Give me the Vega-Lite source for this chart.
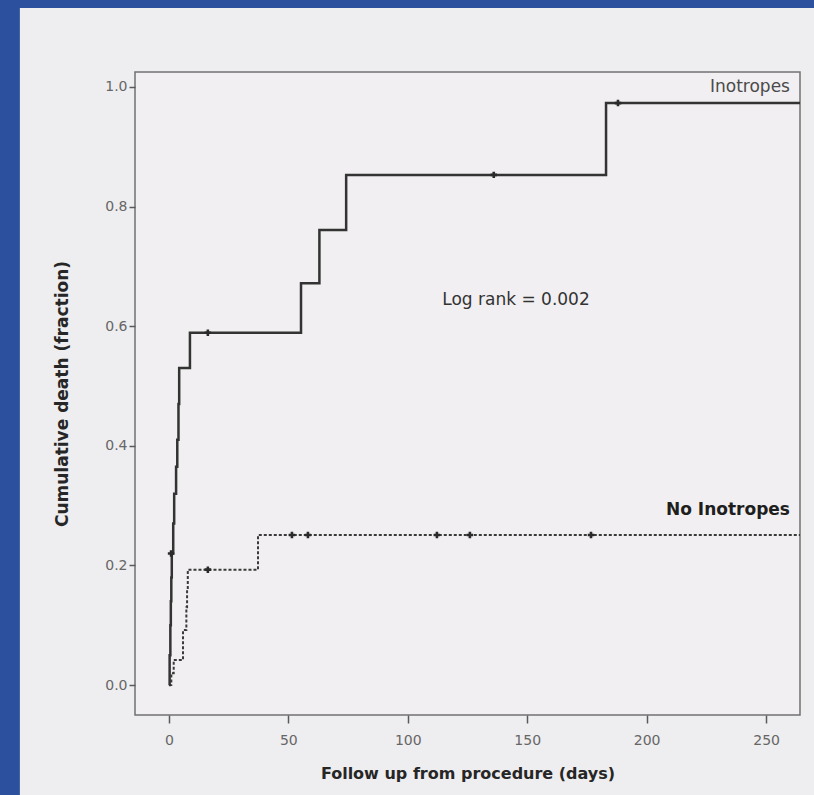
{
  "$schema": "https://vega.github.io/schema/vega-lite/v6.json",
  "width": 665,
  "height": 643,
  "autosize": {"type": "none"},
  "padding": {"left": 135, "top": 72, "right": 14, "bottom": 80},
  "background": "#2c4f9e",
  "config": {
    "view": {"stroke": null},
    "axis": {
      "domain": false,
      "grid": false,
      "ticks": true,
      "tickColor": "#5a5a5a",
      "tickWidth": 1.5,
      "labelColor": "#666666",
      "labelFont": "DejaVu Sans",
      "labelFontSize": 14,
      "titleFont": "DejaVu Sans",
      "titleFontSize": 16,
      "titleFontWeight": "bold",
      "titleColor": "#262626"
    }
  },
  "datasets": {
    "curves": [
      {"group": "Inotropes", "day": 0, "value": 0},
      {"group": "Inotropes", "day": 0.3, "value": 0.05},
      {"group": "Inotropes", "day": 0.6, "value": 0.1},
      {"group": "Inotropes", "day": 0.8, "value": 0.14},
      {"group": "Inotropes", "day": 1.0, "value": 0.18},
      {"group": "Inotropes", "day": 1.2, "value": 0.22},
      {"group": "Inotropes", "day": 1.8, "value": 0.27},
      {"group": "Inotropes", "day": 2.2, "value": 0.32},
      {"group": "Inotropes", "day": 3.0, "value": 0.365},
      {"group": "Inotropes", "day": 3.5, "value": 0.41},
      {"group": "Inotropes", "day": 4.0, "value": 0.47},
      {"group": "Inotropes", "day": 4.3, "value": 0.53},
      {"group": "Inotropes", "day": 8.8, "value": 0.589},
      {"group": "Inotropes", "day": 55.3, "value": 0.672},
      {"group": "Inotropes", "day": 63.0, "value": 0.761},
      {"group": "Inotropes", "day": 74.2, "value": 0.853},
      {"group": "Inotropes", "day": 183.0, "value": 0.973},
      {"group": "Inotropes", "day": 264.2, "value": 0.973},
      {"group": "No Inotropes", "day": 0, "value": 0},
      {"group": "No Inotropes", "day": 1.0, "value": 0.02},
      {"group": "No Inotropes", "day": 2.0, "value": 0.042},
      {"group": "No Inotropes", "day": 5.9, "value": 0.092},
      {"group": "No Inotropes", "day": 7.3, "value": 0.13},
      {"group": "No Inotropes", "day": 7.6, "value": 0.16},
      {"group": "No Inotropes", "day": 7.9, "value": 0.193},
      {"group": "No Inotropes", "day": 37.3, "value": 0.251},
      {"group": "No Inotropes", "day": 264.2, "value": 0.251}
    ],
    "censor": [
      {"group": "Inotropes", "day": 0.9, "value": 0.22},
      {"group": "Inotropes", "day": 16.3, "value": 0.589},
      {"group": "Inotropes", "day": 136.0, "value": 0.853},
      {"group": "Inotropes", "day": 188.0, "value": 0.973},
      {"group": "No Inotropes", "day": 16.3, "value": 0.193},
      {"group": "No Inotropes", "day": 51.5, "value": 0.251},
      {"group": "No Inotropes", "day": 58.2, "value": 0.251},
      {"group": "No Inotropes", "day": 112.2, "value": 0.251},
      {"group": "No Inotropes", "day": 126.0, "value": 0.251},
      {"group": "No Inotropes", "day": 176.7, "value": 0.251}
    ],
    "labels": [
      {"text": "Inotropes", "day": 260, "value": 1.0, "kind": "plain"},
      {"text": "No Inotropes", "day": 260, "value": 0.293, "kind": "bold"},
      {"text": "Log rank = 0.002", "day": 145.3, "value": 0.644, "kind": "mid"}
    ]
  },
  "layer": [
    {
      "data": {"values": [{"k": 1}]},
      "mark": {"type": "rect", "color": "#eeedef", "clip": false},
      "encoding": {
        "x": {"datum": -62.4, "type": "quantitative", "title": "Follow up from procedure (days)", "scale": {"domain": [-14.2, 264.2], "nice": false, "zero": false}, "axis": {"values": [0, 50, 100, 150, 200, 250], "tickSize": 8, "labelPadding": 10, "titlePadding": 18, "zindex": 3}},
        "x2": {"datum": 270.1},
        "y": {"datum": -0.184, "type": "quantitative", "title": "Cumulative death (fraction)", "scale": {"domain": [-0.05, 1.025], "nice": false, "zero": false}, "axis": {"values": [0, 0.2, 0.4, 0.6, 0.8, 1.0], "format": ".1f", "tickSize": 6, "labelPadding": 2, "titlePadding": 33, "titleFontSize": 17, "zindex": 3}},
        "y2": {"datum": 1.132}
      }
    },
    {
      "data": {"values": [{"k": 1}]},
      "mark": {"type": "rect", "color": "#f1eff1", "stroke": "#727272", "strokeWidth": 1.5, "clip": false},
      "encoding": {
        "x": {"datum": -14.2, "type": "quantitative", "title": "Follow up from procedure (days)"},
        "x2": {"datum": 264.2},
        "y": {"datum": -0.05, "type": "quantitative", "title": "Cumulative death (fraction)"},
        "y2": {"datum": 1.025}
      }
    },
    {
      "data": {"name": "curves"},
      "transform": [{"filter": "datum.group === 'No Inotropes'"}],
      "mark": {"type": "line", "interpolate": "step-after", "stroke": "#3a3a3a", "strokeWidth": 2, "strokeDash": [3, 2]},
      "encoding": {
        "x": {"field": "day", "type": "quantitative", "title": "Follow up from procedure (days)"},
        "y": {"field": "value", "type": "quantitative", "title": "Cumulative death (fraction)"}
      }
    },
    {
      "data": {"name": "curves"},
      "transform": [{"filter": "datum.group === 'Inotropes'"}],
      "mark": {"type": "line", "interpolate": "step-after", "stroke": "#333333", "strokeWidth": 2.5},
      "encoding": {
        "x": {"field": "day", "type": "quantitative", "title": "Follow up from procedure (days)"},
        "y": {"field": "value", "type": "quantitative", "title": "Cumulative death (fraction)"}
      }
    },
    {
      "data": {"name": "censor"},
      "mark": {"type": "point", "shape": "cross", "filled": true, "size": 42, "color": "#2a2a2a", "opacity": 1},
      "encoding": {
        "x": {"field": "day", "type": "quantitative", "title": "Follow up from procedure (days)"},
        "y": {"field": "value", "type": "quantitative", "title": "Cumulative death (fraction)"}
      }
    },
    {
      "data": {"name": "labels"},
      "transform": [{"filter": "datum.kind === 'plain'"}],
      "mark": {"type": "text", "align": "right", "baseline": "middle", "font": "DejaVu Sans", "fontSize": 17, "color": "#4a4a4a"},
      "encoding": {
        "x": {"field": "day", "type": "quantitative", "title": "Follow up from procedure (days)"},
        "y": {"field": "value", "type": "quantitative", "title": "Cumulative death (fraction)"},
        "text": {"field": "text"}
      }
    },
    {
      "data": {"name": "labels"},
      "transform": [{"filter": "datum.kind === 'mid'"}],
      "mark": {"type": "text", "align": "center", "baseline": "middle", "font": "DejaVu Sans", "fontSize": 17, "color": "#333333"},
      "encoding": {
        "x": {"field": "day", "type": "quantitative", "title": "Follow up from procedure (days)"},
        "y": {"field": "value", "type": "quantitative", "title": "Cumulative death (fraction)"},
        "text": {"field": "text"}
      }
    },
    {
      "data": {"name": "labels"},
      "transform": [{"filter": "datum.kind === 'bold'"}],
      "mark": {"type": "text", "align": "right", "baseline": "middle", "font": "DejaVu Sans", "fontSize": 17, "fontWeight": "bold", "color": "#1e1e1e"},
      "encoding": {
        "x": {"field": "day", "type": "quantitative", "title": "Follow up from procedure (days)"},
        "y": {"field": "value", "type": "quantitative", "title": "Cumulative death (fraction)"},
        "text": {"field": "text"}
      }
    }
  ]
}
